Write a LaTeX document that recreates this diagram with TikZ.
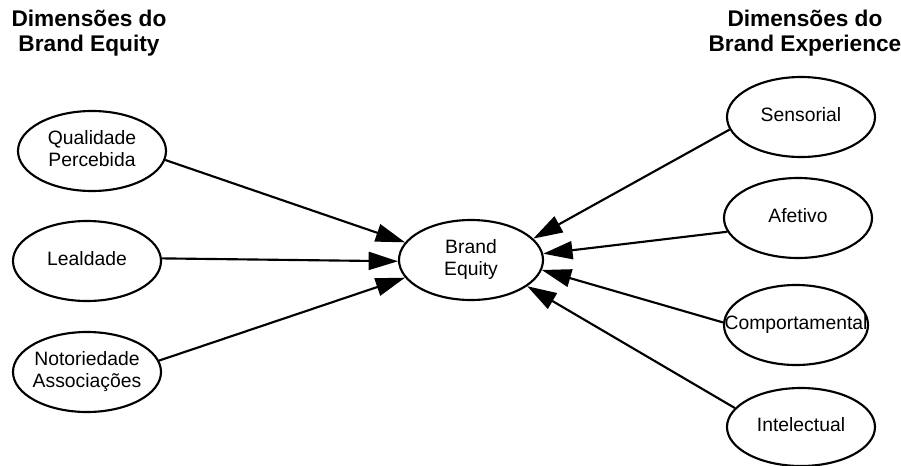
\documentclass[tikz,border=0pt]{standalone}
\usepackage{fontspec}
\setmainfont{Liberation Sans}
\usetikzlibrary{shapes.geometric,arrows.meta}
\newcommand\zwtext[1]{\makebox[0pt]{\begin{tabular}{@{}c@{}}#1\end{tabular}}}
\begin{document}
\begin{tikzpicture}[x=0.75pt,y=-0.75pt,
  oval/.style={ellipse,draw=black,line width=1.6pt,inner sep=0pt,
    minimum width=148*0.75pt,minimum height=80*0.75pt,
    font=\fontsize{14.5}{16.5}\selectfont},
  arr/.style={line width=1.6pt,-{Triangle[length=22pt,width=13.5pt]}},
  ttl/.style={font=\fontsize{17}{18.75}\selectfont\bfseries,align=center,inner sep=0pt}]
\useasboundingbox (0,0) rectangle (901,465);
% titles
\node[ttl,anchor=north] (t1) at (89,10) {Dimensões do\\Brand Equity};
\node[ttl,anchor=north] (t2) at (805,10) {Dimensões do\\Brand Experience};
% left nodes
\node[oval] (q) at (92,151) {\zwtext{Qualidade\\Percebida}};
\node[oval] (l) at (87,261) {\zwtext{Lealdade}};
\node[oval] (n) at (87,372) {\zwtext{Notoriedade\\Associações}};
% center
\node[oval,minimum width=144*0.75pt] (be) at (471,260) {\zwtext{Brand\\Equity}};
% right nodes
\node[oval] (s) at (801,117) {\zwtext{Sensorial}};
\node[oval] (a) at (798,218) {\zwtext{Afetivo}};
\node[oval,minimum width=144*0.75pt] (c) at (796,325) {\zwtext{Comportamental}};
\node[oval,minimum height=78*0.75pt] (i) at (801,427) {\zwtext{Intelectual}};
% connectors
\draw[arr] (q.-7) -- (be.165.6);
\draw[arr] (l.2.4) -- (be.181.5);
\draw[arr] (n.9.6) -- (be.195.7);
\draw[arr] (s.190.7) -- (be.19.5);
\draw[arr] (a.191.2) -- (be.5.6);
\draw[arr] (c.178.4) -- (be.-8);
\draw[arr] (i.164) -- (be.-25.7);
\end{tikzpicture}
\end{document}
